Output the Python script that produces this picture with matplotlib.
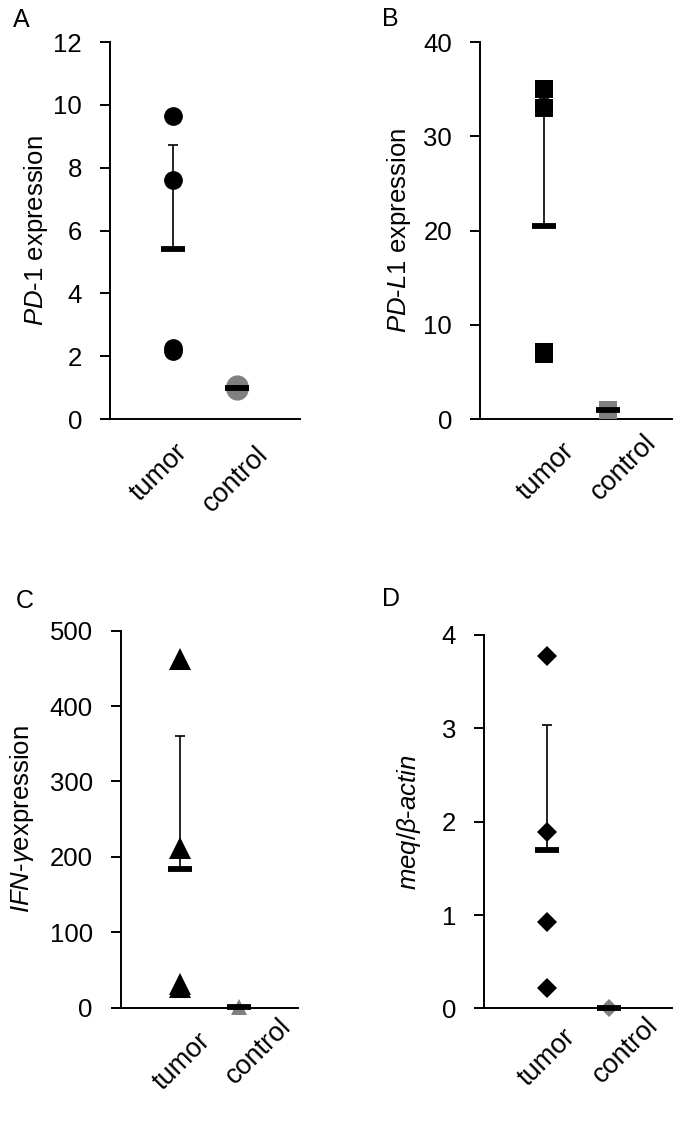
import matplotlib
matplotlib.use("Agg")
import matplotlib.pyplot as plt
import numpy as np

plt.rcParams["font.family"] = ["Liberation Sans", "DejaVu Sans"]
plt.rcParams["mathtext.fontset"] = "custom"
plt.rcParams["mathtext.rm"] = "Liberation Sans"
plt.rcParams["mathtext.it"] = "Liberation Sans:italic"

groups = ["tumor", "control"]

tumor_pd1 = [9.65, 7.62, 2.25, 2.15]
control_pd1 = [0.95, 1.05]
tumor_pdl1 = [35.0, 33.0, 7.1, 6.9]
control_pdl1 = [1.0]
tumor_ifng = [462, 212, 32, 28]
control_ifng = [1.0]
tumor_meq = [3.77, 1.89, 0.92, 0.22]
control_meq = [0.0]

ylabels = [
    r"$\mathit{PD}$-$\mathit{1}$ expression",
    r"$\mathit{PD}$-$\mathit{L1}$ expression",
    r"$\mathit{IFN}$-$\mathit{\gamma}$expression",
    r"$\mathit{meq/\beta}$-$\mathit{actin}$",
]
yticks_all = [
    [0, 2, 4, 6, 8, 10, 12],
    [0, 10, 20, 30, 40],
    [0, 100, 200, 300, 400, 500],
    [0, 1, 2, 3, 4],
]
letters = ["A", "B", "C", "D"]
tumor_data = [tumor_pd1, tumor_pdl1, tumor_ifng, tumor_meq]
control_data = [control_pd1, control_pdl1, control_ifng, control_meq]

# styling / layout per panel
markers = ["o", "s", "^", "D"]
marker_sizes = [(13.5, 16), (13, 13), (16, 12), (10.5, 9)]
boxes = [
    (0.1606, 0.6321, 0.2774, 0.331),
    (0.7007, 0.6321, 0.2803, 0.331),
    (0.1762, 0.1153, 0.2588, 0.331),
    (0.7066, 0.1147, 0.2745, 0.3278),
]
ylabel_x = [-0.316, -0.349, -0.475, -0.324]
letter_pos = [(13, 20), (382, 19.5), (16, 601), (382, 599.5)]
# centre offsets (px) of the rotated category labels from (tick, axis)
xlab_off = [
    [(-14, 54), (-1, 60)],
    [(2, 53), (16, 48)],
    [(2, 54), (20, 44)],
    [(0, 49), (16, 42)],
]

W, H = 685, 1139
fig = plt.figure(figsize=(W / 100, H / 100), dpi=100)
px = 72 / 100

for k in range(4):
    ax = fig.add_axes(boxes[k])
    for i, (vals, col) in enumerate([(tumor_data[k], "black"), (control_data[k], "#808080")]):
        vals = np.array(vals, dtype=float)
        ax.plot(np.full(len(vals), i), vals, linestyle="none", marker=markers[k],
                markersize=marker_sizes[k][i], color=col, markeredgewidth=0,
                clip_on=False, zorder=3)
        m = vals.mean()
        sd = vals.std()
        ax.errorbar([i], [m], yerr=[[0], [sd]], fmt="none", ecolor="black",
                    elinewidth=1.2, capsize=3.8, capthick=1.2, zorder=4, clip_on=False)
        ax.plot([i], [m], linestyle="none", marker="_", markersize=17,
                markeredgewidth=4.2, color="black", zorder=5, clip_on=False)

    ax.set_xlim(-1, 2)
    ax.set_ylim(yticks_all[k][0], yticks_all[k][-1])
    ax.set_yticks(yticks_all[k])
    ax.set_xticks([0, 1])
    ax.tick_params(axis="x", length=0, labelbottom=False)
    ax.tick_params(axis="y", direction="out", length=7.2, width=1.4, labelsize=18.5, pad=13)
    for i, g in enumerate(groups):
        dx, dy = xlab_off[k][i]
        ax.annotate(g, xy=(i, 0), xycoords=("data", "axes fraction"),
                    xytext=(dx * px, -dy * px), textcoords="offset points",
                    rotation=45, ha="center", va="center", fontsize=19.5,
                    annotation_clip=False)
    ax.spines["top"].set_visible(False)
    ax.spines["right"].set_visible(False)
    ax.spines["left"].set_linewidth(1.4)
    ax.spines["bottom"].set_linewidth(1.4)
    ax.set_ylabel(ylabels[k], fontsize=18.5)
    ax.yaxis.set_label_coords(ylabel_x[k], 0.5)
    lx, ly = letter_pos[k]
    fig.text(lx / W, 1 - ly / H, letters[k], fontsize=18, ha="left", va="center")

fig.savefig("out.png", dpi=100)
